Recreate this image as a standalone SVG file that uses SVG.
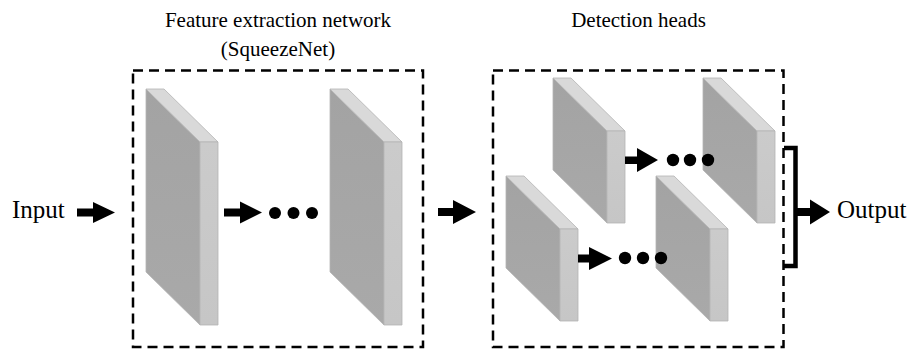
<svg xmlns="http://www.w3.org/2000/svg" xmlns:xlink="http://www.w3.org/1999/xlink" width="914" height="349" viewBox="0 0 914 349">
<style>
.box{fill:none;stroke:#000;stroke-width:2.5;stroke-dasharray:10,6}
.t{font-family:"Liberation Serif","Times New Roman",serif;fill:#000}
.front{fill:url(#gFront);stroke:#b4b4b4;stroke-width:0.8}
.top{fill:#d9d9d9;stroke:#b4b4b4;stroke-width:0.8}
.side{fill:url(#gSide);stroke:#b4b4b4;stroke-width:0.8}
.arr{fill:#000}
</style>
<defs>
<linearGradient id="gFront" x1="0" y1="0" x2="0" y2="1">
<stop offset="0" stop-color="#a3a3a3"/><stop offset="1" stop-color="#a9a9a9"/>
</linearGradient>
<linearGradient id="gSide" x1="0" y1="0" x2="0" y2="1">
<stop offset="0" stop-color="#cbcbcb"/><stop offset="1" stop-color="#c6c6c6"/>
</linearGradient>
<g id="slabTall">
<polygon class="front" points="0,0 54,53 54,236 0,183"/>
<polygon class="top" points="0,0 18,0 72,53 54,53"/>
<polygon class="side" points="54,53 72,53 72,236 54,236"/>
</g>
<g id="slabShort">
<polygon class="front" points="0,0 54,53 54,145 0,92"/>
<polygon class="top" points="0,0 18,0 72,53 54,53"/>
<polygon class="side" points="54,53 72,53 72,145 54,145"/>
</g>
</defs>
<rect width="914" height="349" fill="#fff"/>

<g id="feature-box">
<rect class="box" x="133" y="70.5" width="290" height="276.5"/>
<text class="t" x="278" y="27" font-size="21" text-anchor="middle">Feature extraction network</text>
<text class="t" x="278" y="56" font-size="21" text-anchor="middle">(SqueezeNet)</text>
</g>
<g id="detection-box">
<rect class="box" x="493" y="70.5" width="290.5" height="276.5"/>
<text class="t" x="638.5" y="27" font-size="21" text-anchor="middle">Detection heads</text>
</g>

<g id="input"><text class="t" x="12" y="217.5" font-size="25">Input</text></g>
<g id="output"><text class="t" x="837" y="217.5" font-size="25">Output</text></g>

<g id="fe-layer-1"><use xlink:href="#slabTall" x="146" y="89"/></g>
<g id="fe-layer-n"><use xlink:href="#slabTall" x="330" y="89"/></g>
<g id="head1-layer-1"><use xlink:href="#slabShort" x="553" y="78"/></g>
<g id="head1-layer-n"><use xlink:href="#slabShort" x="703" y="78"/></g>
<g id="head2-layer-1"><use xlink:href="#slabShort" x="506" y="176"/></g>
<g id="head2-layer-n"><use xlink:href="#slabShort" x="656" y="176"/></g>

<g id="connectors">
<polygon class="arr" points="77,208.5 93,208.5 93,202 115,212.5 93,223 93,216.5 77,216.5"/>
<polygon class="arr" points="224,208.5 240,208.5 240,201.5 262,212.5 240,223.5 240,216.5 224,216.5"/>
<circle class="arr" cx="275" cy="213" r="6"/>
<circle class="arr" cx="293.5" cy="213" r="6"/>
<circle class="arr" cx="312" cy="213" r="6"/>
<polygon class="arr" points="438,208 453,208 453,200 476,212 453,224 453,216 438,216"/>
<polygon class="arr" points="625,156.5 637,156.5 637,148 658,160 637,172 637,164 625,164"/>
<circle class="arr" cx="673" cy="160" r="6.2"/>
<circle class="arr" cx="690" cy="160" r="6.2"/>
<circle class="arr" cx="708" cy="160" r="6.2"/>
<polygon class="arr" points="578,254.5 589,254.5 589,247 612,258.5 589,270 589,262.5 578,262.5"/>
<circle class="arr" cx="625" cy="258" r="6.2"/>
<circle class="arr" cx="643" cy="258" r="6.2"/>
<circle class="arr" cx="661" cy="258" r="6.2"/>
<path d="M784,148 H795.5 V266 H784" fill="none" stroke="#000" stroke-width="4.5"/>
<polygon class="arr" points="797,208 810,208 810,199.5 830,212 810,224.5 810,216 797,216"/>
</g>
</svg>
